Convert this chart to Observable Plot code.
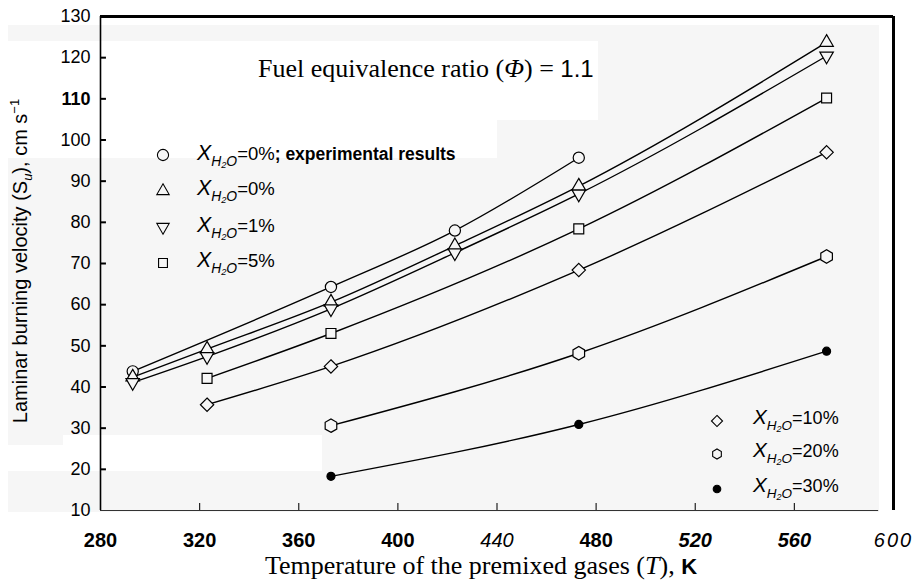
<!DOCTYPE html>
<html>
<head>
<meta charset="utf-8">
<script src="https://cdn.jsdelivr.net/npm/d3@7"></script>
<script src="https://cdn.jsdelivr.net/npm/@observablehq/plot@0.6"></script>
<style>
  body { margin: 0; background: #fff; }
  #chart svg { display: block; }
</style>
</head>
<body>
<div id="chart"></div>
<script>
// ---- data ----
const xTicks = [280, 320, 360, 400, 440, 480, 520, 560, 600];
const yTicks = [10, 20, 30, 40, 50, 60, 70, 80, 90, 100, 110, 120, 130];

const seriesNames = ["exp0", "x0", "x1", "x5", "x10", "x20", "x30"];

const tExp = [293, 373, 423, 473];
const vExp = [43.8, 64.3, 78.0, 95.7];            // X_H2O = 0%, experimental

const tAll = [293, 323, 373, 423, 473, 573];
const v0 = [42.4, 49.2, 60.6, 74.3, 88.8, 123.7];  // X_H2O = 0%
const v1 = [41.1, 47.4, 59.0, 72.6, 86.9, 120.4];  // X_H2O = 1%

const tMid = [323, 373, 473, 573];
const v5 = [42.1, 53.0, 78.4, 110.2];              // X_H2O = 5%
const v10 = [35.7, 45.0, 68.4, 97.0];              // X_H2O = 10%

const tHigh = [373, 473, 573];
const v20 = [30.6, 48.2, 71.7];                    // X_H2O = 20%
const v30 = [18.3, 30.9, 48.7];                    // X_H2O = 30%

// ---- build table ----
const toRows = (name, ts, vs) => ts.map((t, i) => ({series: name, T: t, V: vs[i]}));
const rows = {
  exp0: toRows("exp0", tExp, vExp),
  x0: toRows("x0", tAll, v0),
  x1: toRows("x1", tAll, v1),
  x5: toRows("x5", tMid, v5),
  x10: toRows("x10", tMid, v10),
  x20: toRows("x20", tHigh, v20),
  x30: toRows("x30", tHigh, v30)
};
const allRows = seriesNames.flatMap(n => rows[n]);

// inverted triangle symbol
const triangleDown = {
  draw(context, size) {
    const sqrt3 = Math.sqrt(3);
    const y = -Math.sqrt(size / (sqrt3 * 3));
    context.moveTo(0, -y * 2);
    context.lineTo(-sqrt3 * y, y);
    context.lineTo(sqrt3 * y, y);
    context.closePath();
  }
};

const bg = "#f6f6f6";
const markerStyle = {
  exp0: {symbol: "circle", r: 5.6, fill: bg},
  x0: {symbol: "triangle", r: 5.0, fill: bg},
  x1: {symbol: triangleDown, r: 5.0, fill: bg},
  x5: {symbol: "square", r: 5.6, fill: bg},
  x10: {symbol: "diamond2", r: 6.0, fill: bg},
  x20: {symbol: "hexagon", r: 5.8, fill: bg},
  x30: {symbol: "circle", r: 4.0, fill: "black"}
};

const sans = "'Liberation Sans', Arial, Helvetica, sans-serif";
const serif = "'Liberation Serif', 'Times New Roman', serif";

const chart = Plot.plot({
  width: 915,
  height: 588,
  marginLeft: 100,
  marginRight: 22,
  marginTop: 16,
  marginBottom: 78,
  x: {domain: [280, 600]},
  y: {domain: [10, 130]},
  style: {background: "transparent", fontFamily: sans, color: "black", overflow: "visible"},
  marks: [
    Plot.axisY(yTicks, {tickSize: 0, tickPadding: 10, fontSize: 18, label: null}),
    Plot.axisX(xTicks, {tickSize: 0, tickPadding: 22, fontSize: 20, label: null}),
    // inward tick marks
    Plot.ruleY(yTicks.slice(1, -1), {y: d => d, x1: 280, x2: 282.4, stroke: "black", strokeWidth: 2}),
    Plot.ruleX(xTicks.slice(1, -1), {x: d => d, y1: 10, y2: 11.7, stroke: "#222", strokeWidth: 1.2}),
    // frame lines
    Plot.ruleX([280], {stroke: "black", strokeWidth: 1.6}),
    Plot.ruleY([10], {x1: 280, x2: 594, stroke: "#333", strokeWidth: 1.2}),
    Plot.ruleY([130], {stroke: "black", strokeWidth: 3}),
    Plot.ruleX([600], {stroke: "black", strokeWidth: 3}),
    // curves
    Plot.line(allRows, {x: "T", y: "V", z: "series", curve: "monotone-x", stroke: "black", strokeWidth: 1.4}),
    // markers
    ...seriesNames.map(n => Plot.dot(rows[n], {
      x: "T", y: "V",
      symbol: markerStyle[n].symbol,
      r: markerStyle[n].r,
      fill: markerStyle[n].fill,
      stroke: "black",
      strokeWidth: 1.2
    }))
  ]
});

document.getElementById("chart").appendChild(chart);
const svg = d3.select(chart);

// ---- scanned-paper background patches (behind everything) ----
const bgLayer = svg.insert("g", ":first-child");
bgLayer.append("rect").attr("x", 8).attr("y", 25).attr("width", 871).attr("height", 487).attr("fill", bg);
bgLayer.append("rect").attr("x", 8).attr("y", 41).attr("width", 489).attr("height", 117).attr("fill", "#fff");
bgLayer.append("rect").attr("x", 497).attr("y", 41).attr("width", 101).attr("height", 79).attr("fill", "#fff");
bgLayer.append("rect").attr("x", 63).attr("y", 435).attr("width", 259).attr("height", 36).attr("fill", "#fff");
bgLayer.append("rect").attr("x", 0).attr("y", 445).attr("width", 63).attr("height", 26).attr("fill", "#fff");

// ---- tick label styling ----
svg.selectAll('[aria-label="x-axis tick label"] text').each(function() {
  const v = this.textContent.trim();
  const s = d3.select(this);
  if (v === "440") s.attr("font-style", "italic").attr("font-weight", "normal");
  else if (v === "600") s.attr("font-style", "italic").attr("font-weight", "normal").attr("letter-spacing", 2);
  else if (v === "520" || v === "560") s.attr("font-style", "italic").attr("font-weight", "bold");
  else s.attr("font-weight", "bold");
});
svg.selectAll('[aria-label="y-axis tick label"] text').each(function() {
  const v = this.textContent.trim();
  if (v === "110") d3.select(this).attr("font-weight", "bold");
});

// ---- annotations ----
const ann = svg.append("g").attr("text-anchor", "start");

// title
const title = ann.append("text").attr("x", 258).attr("y", 77)
  .attr("text-anchor", "start")
  .attr("font-family", serif).attr("font-size", 26);
title.append("tspan").text("Fuel equivalence ratio (");
title.append("tspan").attr("font-style", "italic").text("Φ");
title.append("tspan").text(") = ");
title.append("tspan").attr("font-family", sans).attr("font-size", 24).text("1.1");

// y label
const yl = ann.append("text")
  .attr("transform", "translate(27,261) rotate(-90)")
  .attr("text-anchor", "middle")
  .attr("font-family", sans).attr("font-size", 20);
yl.append("tspan").text("Laminar burning velocity (");
yl.append("tspan").text("S");
yl.append("tspan").attr("font-style", "italic").attr("font-size", 13).attr("dy", 5).text("u");
yl.append("tspan").attr("dy", -5).text("), cm s");
yl.append("tspan").attr("font-size", 13).attr("dy", -8).text("−1");

// x label
const xl = ann.append("text").attr("x", 481).attr("y", 574)
  .attr("text-anchor", "middle")
  .attr("font-family", serif).attr("font-size", 26);
xl.append("tspan").text("Temperature of the premixed gases (");
xl.append("tspan").attr("font-style", "italic").text("T");
xl.append("tspan").text("), ");
xl.append("tspan").attr("font-family", sans).attr("font-weight", "bold").attr("font-size", 22).text("K");

// legend helper
function legendItem(g, mx, my, symbol, size, fill, tx, ty, pct, fs, extra) {
  g.append("path")
    .attr("transform", `translate(${mx},${my})`)
    .attr("d", d3.symbol(symbol, size)())
    .attr("fill", fill).attr("stroke", "black").attr("stroke-width", 1.1);
  const t = g.append("text").attr("x", tx).attr("y", ty)
    .attr("text-anchor", "start")
    .attr("font-family", sans).attr("font-size", fs);
  t.append("tspan").attr("font-style", "italic").attr("font-size", fs * 1.15).text("X");
  t.append("tspan").attr("font-style", "italic").attr("font-size", fs * 0.75).attr("dy", fs * 0.32).text("H");
  t.append("tspan").attr("font-style", "italic").attr("font-size", fs * 0.5).attr("dy", fs * 0.1).text("2");
  t.append("tspan").attr("font-style", "italic").attr("font-size", fs * 0.75).attr("dy", -fs * 0.1).text("O");
  t.append("tspan").attr("dy", -fs * 0.32).text("=" + pct);
  if (extra) t.append("tspan").attr("font-size", 17.5).attr("font-weight", "bold").text(extra);
}

const hexagon = {
  draw(context, size) {
    const rr = Math.sqrt(size / Math.PI);
    for (let i = 0; i < 6; i++) {
      const a = Math.PI / 3 * i + Math.PI / 6;
      const px = rr * Math.cos(a), py = rr * Math.sin(a);
      if (i === 0) context.moveTo(px, py); else context.lineTo(px, py);
    }
    context.closePath();
  }
};

const lg = ann.append("g");
legendItem(lg, 163, 155, d3.symbolCircle, Math.PI * 5.6 * 5.6, bg, 197, 160, "0%", 18.5, "; experimental results");
legendItem(lg, 163, 191, d3.symbolTriangle, Math.PI * 4.6 * 4.6, bg, 197, 195, "0%", 18.5);
legendItem(lg, 163, 227, triangleDown, Math.PI * 4.6 * 4.6, bg, 197, 232, "1%", 18.5);
legendItem(lg, 163, 263, d3.symbolSquare, Math.PI * 5 * 5, bg, 197, 267, "5%", 18.5);

legendItem(lg, 717, 421, d3.symbolDiamond2, Math.PI * 5 * 5, bg, 753, 424, "10%", 18);
legendItem(lg, 717, 454, hexagon, Math.PI * 5 * 5, bg, 753, 457, "20%", 18);
legendItem(lg, 717, 489, d3.symbolCircle, Math.PI * 3.8 * 3.8, "black", 753, 492, "30%", 18);
</script>
</body>
</html>
